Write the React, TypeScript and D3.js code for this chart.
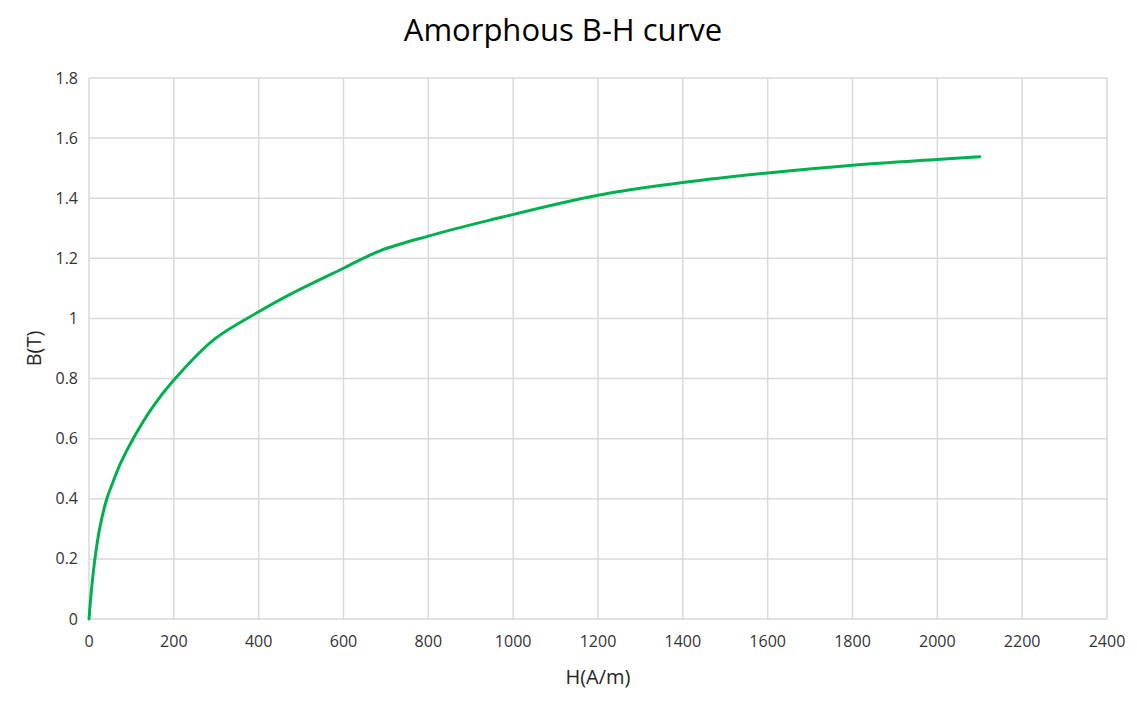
import React, { useEffect, useRef } from "react";
import * as d3 from "d3";

const hValues = [0, 6, 14, 25, 42, 55, 75, 104, 150, 200, 293, 400, 474, 600, 686, 800, 945, 1200, 1400, 1600, 1800, 2000, 2100];
const bValues = [0, 0.1, 0.2, 0.3, 0.4, 0.45, 0.52, 0.6, 0.705, 0.795, 0.928, 1.022, 1.08, 1.167, 1.225, 1.274, 1.327, 1.41, 1.452, 1.484, 1.51, 1.529, 1.538];
const xTicks = [0, 200, 400, 600, 800, 1000, 1200, 1400, 1600, 1800, 2000, 2200, 2400];
const yTicks = [0, 0.2, 0.4, 0.6, 0.8, 1, 1.2, 1.4, 1.6, 1.8];
const title = "Amorphous B-H curve";
const xTitle = "H(A/m)";
const yTitle = "B(T)";

const W = 1137;
const H = 711;
const M = { left: 89, right: 1107, top: 78, bottom: 619 };

export default function App() {
  const ref = useRef<SVGSVGElement>(null);
  useEffect(() => {
    const svg = d3.select(ref.current);
    svg.selectAll("*").remove();
    const x = d3.scaleLinear().domain([0, 2400]).range([M.left, M.right]);
    const y = d3.scaleLinear().domain([0, 1.8]).range([M.bottom, M.top]);
    const font = "'Open Sans', sans-serif";

    svg.append("rect").attr("width", W).attr("height", H).attr("fill", "#fff");

    const g = svg.append("g");
    g.selectAll("line.vx").data(xTicks).enter().append("line")
      .attr("x1", d => x(d)).attr("x2", d => x(d))
      .attr("y1", M.top).attr("y2", M.bottom)
      .attr("stroke", "#d9d9d9").attr("stroke-width", 1.5);
    g.selectAll("line.hy").data(yTicks).enter().append("line")
      .attr("x1", M.left).attr("x2", M.right)
      .attr("y1", d => y(d)).attr("y2", d => y(d))
      .attr("stroke", "#d9d9d9").attr("stroke-width", 1.5);

    g.selectAll("text.xt").data(xTicks).enter().append("text")
      .attr("x", d => x(d)).attr("y", M.bottom + 28)
      .attr("text-anchor", "middle").attr("font-family", font).attr("font-size", 16)
      .attr("fill", "#333").text(d => String(d));
    g.selectAll("text.yt").data(yTicks).enter().append("text")
      .attr("x", M.left - 11).attr("y", d => y(d) + 5.5)
      .attr("text-anchor", "end").attr("font-family", font).attr("font-size", 16)
      .attr("fill", "#333").text(d => String(d));

    const data = hValues.map((h, i) => [h, bValues[i]] as [number, number]);
    const line = d3.line<[number, number]>()
      .x(d => x(d[0])).y(d => y(d[1]))
      .curve(d3.curveCatmullRom.alpha(0.5));
    svg.append("path").datum(data).attr("d", line)
      .attr("fill", "none").attr("stroke", "#00b050").attr("stroke-width", 3)
      .attr("stroke-linecap", "round").attr("stroke-linejoin", "round");

    svg.append("text").attr("x", 563).attr("y", 41)
      .attr("text-anchor", "middle").attr("font-family", font).attr("font-size", 31)
      .attr("fill", "#000").text(title);
    svg.append("text").attr("x", 598).attr("y", 684)
      .attr("text-anchor", "middle").attr("font-family", font).attr("font-size", 20)
      .attr("fill", "#262626").text(xTitle);
    svg.append("text").attr("transform", `translate(41,${(M.top + M.bottom) / 2}) rotate(-90)`)
      .attr("text-anchor", "middle").attr("font-family", font).attr("font-size", 20)
      .attr("fill", "#262626").text(yTitle);
  }, []);
  return (
    <svg ref={ref} width={W} height={H} style={{ position: "absolute", left: 0, top: 0 }} />
  );
}
